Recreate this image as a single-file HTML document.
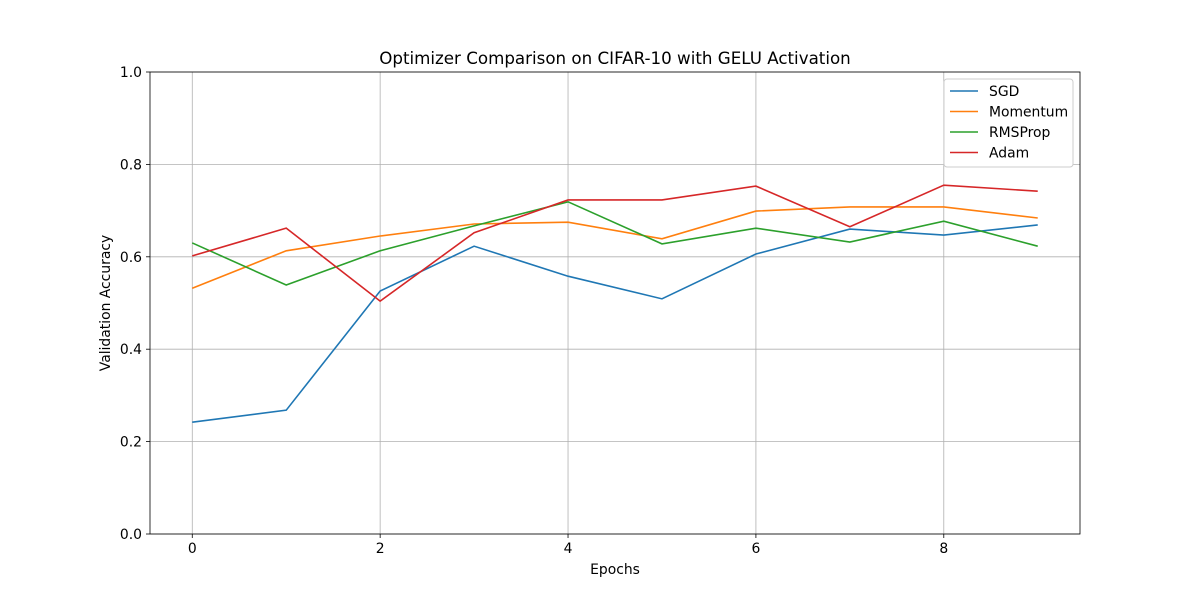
<!DOCTYPE html>
<html><head><meta charset="utf-8"><style>
body{margin:0;background:#fff;}
svg{display:block;font-family:"DejaVu Sans","Liberation Sans",sans-serif;}
</style></head><body>
<svg id="chart" width="1200" height="600"></svg>
<script>
const epochs=[0,1,2,3,4,5,6,7,8,9];
const seriesNames=["SGD","Momentum","RMSProp","Adam"];
const seriesColors=["#1f77b4","#ff7f0e","#2ca02c","#d62728"];
const sgd=[0.242,0.268,0.526,0.623,0.558,0.509,0.606,0.660,0.647,0.669];
const momentum=[0.532,0.613,0.645,0.671,0.675,0.639,0.699,0.708,0.708,0.684];
const rmsprop=[0.630,0.539,0.613,0.667,0.719,0.628,0.662,0.632,0.677,0.623];
const adam=[0.602,0.662,0.504,0.652,0.723,0.723,0.753,0.665,0.755,0.742];
const xTicks=[0,2,4,6,8];
const yTicks=[0.0,0.2,0.4,0.6,0.8,1.0];

const NS="http://www.w3.org/2000/svg";
const svg=document.getElementById('chart');
const L=150,R=1080,T=72,B=534;
const xMin=-0.45,xMax=9.45;
const xs=v=>L+(v-xMin)/(xMax-xMin)*(R-L);
const ys=v=>B-v*(B-T);
function mk(tag,attrs,parent){const e=document.createElementNS(NS,tag);for(const k in attrs)e.setAttribute(k,attrs[k]);(parent||svg).appendChild(e);return e;}

const grid=mk('g',{});


xTicks.forEach(t=>{
  mk('line',{x1:xs(t),x2:xs(t),y1:T,y2:B,stroke:'#b0b0b0','stroke-width':0.8},grid);
  mk('line',{x1:xs(t),x2:xs(t),y1:B,y2:B+4,stroke:'#000','stroke-width':0.8});
  const tx=mk('text',{x:xs(t),y:B+19,'text-anchor':'middle','font-size':13.9});
  tx.textContent=t;
  
  
});
yTicks.forEach(t=>{
  mk('line',{x1:L,x2:R,y1:ys(t),y2:ys(t),stroke:'#b0b0b0','stroke-width':0.8},grid);
  mk('line',{x1:L-4,x2:L,y1:ys(t),y2:ys(t),stroke:'#000','stroke-width':0.8});
  const tx=mk('text',{x:L-8,y:ys(t)+5,'text-anchor':'end','font-size':13.9});
  tx.textContent=t.toFixed(1);
  
  
});

const allData=[sgd,momentum,rmsprop,adam];
allData.forEach((d,i)=>{
  const p=mk('polyline',{points:d.map((v,j)=>xs(epochs[j])+','+ys(v)).join(' '),fill:'none',stroke:seriesColors[i],'stroke-width':1.6});
  
  
});

const frame=mk('rect',{x:L,y:T,width:R-L,height:B-T,fill:'none',stroke:'#000','stroke-width':0.8});



const title=mk('text',{x:(L+R)/2,y:64,'text-anchor':'middle','font-size':16.7});
title.textContent='Optimizer Comparison on CIFAR-10 with GELU Activation';


const xl=mk('text',{x:(L+R)/2,y:574,'text-anchor':'middle','font-size':13.9});
xl.textContent='Epochs';


const yl=mk('text',{x:110,y:(T+B)/2,'text-anchor':'middle','font-size':13.9,transform:'rotate(-90 110 '+((T+B)/2)+')'});
yl.textContent='Validation Accuracy';



const lg=mk('g',{});


mk('rect',{x:944,y:79,width:129,height:88,fill:'#fff',stroke:'#ccc','stroke-width':1,rx:3},lg);
seriesNames.forEach((n,i)=>{
  const y=91+i*20.5;
  const ln=mk('line',{x1:950,x2:978,y1:y,y2:y,stroke:seriesColors[i],'stroke-width':1.6},lg);
  
  
  const t=mk('text',{x:989,y:y+5,'font-size':13.9},lg);
  t.textContent=n;
  
  
});
</script>
</body></html>
